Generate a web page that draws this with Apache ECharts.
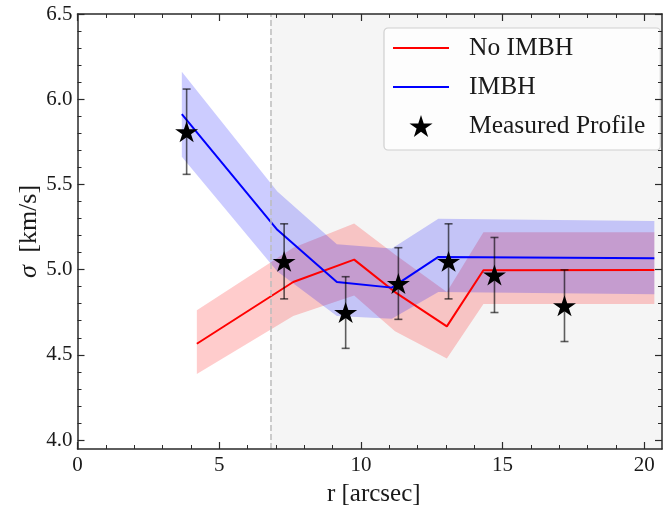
<!DOCTYPE html>
<html>
<head>
<meta charset="utf-8">
<script src="https://cdn.jsdelivr.net/npm/echarts@6/dist/echarts.min.js"></script>
<style>
  html, body { margin: 0; padding: 0; background: #fff; }
  #chart { width: 665px; height: 506px; }
</style>
</head>
<body>
<div id="chart"></div>
<script>
// model without IMBH
var noImbhR = [4.21, 7.61, 9.76, 11.2, 13.03, 14.32, 20.35];
var noImbhSigma = [4.567, 4.929, 5.06, 4.87, 4.669, 4.998, 5.0];
var noImbhLo = [4.39, 4.73, 4.85, 4.64, 4.48, 4.80, 4.80];
var noImbhHi = [4.763, 5.13, 5.272, 5.09, 4.87, 5.22, 5.22];

// model with IMBH
var imbhR = [3.68, 7.05, 9.15, 11.09, 12.73, 20.35];
var imbhSigma = [5.913, 5.235, 4.929, 4.896, 5.076, 5.068];
var imbhLo = [5.663, 4.99, 4.73, 4.714, 4.87, 4.857];
var imbhHi = [6.161, 5.46, 5.15, 5.125, 5.30, 5.287];

// measured profile
var starR = [3.85, 7.29, 9.46, 11.32, 13.09, 14.71, 17.18];
var starSigma = [5.81, 5.05, 4.75, 4.92, 5.05, 4.97, 4.79];
var starErr = [0.25, 0.22, 0.21, 0.21, 0.22, 0.22, 0.21];

var xTicks = [0, 5, 10, 15, 20];
var yTicks = [4.0, 4.5, 5.0, 5.5, 6.0, 6.5];
var cutR = 6.8;
var xMax = 20.62, yMin = 3.95;

var starPath = 'path://M100,0L122.45,69.1L195.1,69.1L136.3,111.8L158.8,180.9L100,138.2L41.2,180.9L63.7,111.8L4.9,69.1L77.55,69.1Z';
var barPath = 'path://M0,0H56V2H0Z';
var font = 'Liberation Serif';
var ink = '#1a1a1a';
var spine = '#2a2a2a';

var myChart = echarts.init(document.getElementById('chart'));

function band(xs, lo, hi, color) {
    return {
        type: 'custom',
        xAxisIndex: 0, yAxisIndex: 0,
        z: 2,
        silent: true,
        clip: true,
        data: xs.map(function (x, i) { return [x, lo[i], hi[i]]; }),
        renderItem: function (params, api) {
            if (params.dataIndex !== 0) return;
            var pts = [];
            for (var i = 0; i < xs.length; i++) pts.push(api.coord([xs[i], hi[i]]));
            for (var j = xs.length - 1; j >= 0; j--) pts.push(api.coord([xs[j], lo[j]]));
            return { type: 'polygon', shape: { points: pts }, style: { fill: color } };
        }
    };
}

function pairs(xs, ys) {
    return xs.map(function (x, i) { return [x, ys[i]]; });
}

// tick axes (inward ticks like the science style)
var tickX = {
    min: 0, max: 20, interval: 5, gridIndex: 1, z: 5,
    axisLine: { show: false },
    axisTick: { show: true, inside: true, length: 7, lineStyle: { color: spine, width: 1.2 } },
    minorTick: { show: true, splitNumber: 5, length: 4, lineStyle: { color: spine, width: 1 } },
    splitLine: { show: false }
};
var tickY = {
    min: 4, max: 6.5, interval: 0.5, gridIndex: 2, z: 5,
    axisLine: { show: false },
    axisTick: { show: true, inside: true, length: 7, lineStyle: { color: spine, width: 1.2 } },
    minorTick: { show: true, splitNumber: 5, length: 4, lineStyle: { color: spine, width: 1 } },
    splitLine: { show: false }
};
var frame = {
    z: 6,
    axisLine: { show: true, onZero: false, lineStyle: { color: spine, width: 1.5 } },
    axisTick: { show: false },
    axisLabel: { show: false },
    splitLine: { show: false }
};

var option = {
    animation: false,
    backgroundColor: '#fff',
    grid: [
        { left: 77.5, right: 3, top: 14, bottom: 57, outerBoundsMode: 'none' },
        { left: 77.5, right: 20.7, top: 14, bottom: 57, outerBoundsMode: 'none' },
        { left: 77.5, right: 3, top: 14, bottom: 66, outerBoundsMode: 'none' }
    ],
    xAxis: [
        Object.assign({}, frame, {
            type: 'value', gridIndex: 0, position: 'bottom', min: 0, max: xMax,
            name: 'r [arcsec]', nameLocation: 'middle', nameGap: 33,
            nameTextStyle: { fontFamily: font, fontSize: 25, color: ink, padding: [0, 0, 0, 8] }
        }),
        Object.assign({}, frame, { type: 'value', gridIndex: 0, position: 'top', min: 0, max: xMax }),
        Object.assign({}, tickX, {
            type: 'value', position: 'bottom',
            axisLabel: {
                show: true, margin: 6, fontFamily: font, fontSize: 21, color: ink,
                formatter: function (v) { return xTicks.indexOf(v) >= 0 ? String(v) : ''; }
            }
        }),
        Object.assign({}, tickX, { type: 'value', position: 'top', axisLabel: { show: false } }),
        { type: 'value', gridIndex: 2, show: false, min: 0, max: 1 }
    ],
    yAxis: [
        Object.assign({}, frame, {
            type: 'value', gridIndex: 0, position: 'left', min: yMin, max: 6.5,
            name: '{i|σ} [km/s]', nameLocation: 'middle', nameGap: 35, nameRotate: 90,
            nameTextStyle: {
                fontFamily: font, fontSize: 26, color: ink, padding: [0, 0, 0, 0],
                rich: { i: { fontFamily: font, fontSize: 26, fontStyle: 'italic', color: ink, padding: [0, 6, 0, 0] } }
            }
        }),
        Object.assign({}, frame, { type: 'value', gridIndex: 0, position: 'right', min: yMin, max: 6.5 }),
        { type: 'value', gridIndex: 1, show: false, min: yMin, max: 6.5 },
        Object.assign({}, tickY, {
            type: 'value', position: 'left',
            axisLabel: {
                show: true, margin: 5, fontFamily: font, fontSize: 21, color: ink,
                formatter: function (v) { return v.toFixed(1); }
            }
        }),
        Object.assign({}, tickY, { type: 'value', position: 'right', axisLabel: { show: false } })
    ],
    legend: {
        left: 384, top: 28,
        orient: 'vertical',
        itemWidth: 56, itemHeight: 22, itemGap: 13,
        padding: [7, 15, 11, 9],
        backgroundColor: 'rgba(255,255,255,0.8)',
        borderColor: '#d0d0d0', borderWidth: 1.2, borderRadius: 4,
        textStyle: { fontFamily: font, fontSize: 25.5, lineHeight: 25, color: ink, padding: [0, 0, 0, 15] },
        selectedMode: false,
        data: [
            { name: 'No IMBH', icon: barPath },
            { name: 'IMBH', icon: barPath },
            { name: 'Measured Profile', icon: starPath }
        ]
    },
    series: [
        {
            // shaded outer region and its boundary
            type: 'line', xAxisIndex: 0, yAxisIndex: 0, data: [], z: 1, silent: true,
            markArea: {
                silent: true,
                itemStyle: { color: '#f5f5f5' },
                data: [[{ xAxis: cutR }, { xAxis: xMax }]]
            },
            markLine: {
                silent: true, symbol: 'none',
                label: { show: false },
                lineStyle: { color: '#bdbdbd', width: 1.5, type: [6, 3] },
                data: [{ xAxis: cutR }]
            }
        },
        band(noImbhR, noImbhLo, noImbhHi, 'rgba(255,0,0,0.2)'),
        band(imbhR, imbhLo, imbhHi, 'rgba(0,0,255,0.2)'),
        {
            name: 'No IMBH', type: 'line', xAxisIndex: 0, yAxisIndex: 0, z: 3,
            symbol: 'none', data: pairs(noImbhR, noImbhSigma),
            lineStyle: { color: '#ff0000', width: 2 }, itemStyle: { color: '#ff0000' }
        },
        {
            name: 'IMBH', type: 'line', xAxisIndex: 0, yAxisIndex: 0, z: 3,
            symbol: 'none', data: pairs(imbhR, imbhSigma),
            lineStyle: { color: '#0000ff', width: 2 }, itemStyle: { color: '#0000ff' }
        },
        {
            type: 'custom', xAxisIndex: 0, yAxisIndex: 0, z: 4, silent: true,
            data: starR.map(function (x, i) { return [x, starSigma[i] - starErr[i], starSigma[i] + starErr[i]]; }),
            renderItem: function (params, api) {
                var top = api.coord([api.value(0), api.value(2)]);
                var bot = api.coord([api.value(0), api.value(1)]);
                var st = { stroke: 'rgba(0,0,0,0.62)', lineWidth: 1.6 };
                return {
                    type: 'group',
                    children: [
                        { type: 'line', shape: { x1: top[0], y1: top[1], x2: bot[0], y2: bot[1] }, style: st },
                        { type: 'line', shape: { x1: top[0] - 4, y1: top[1], x2: top[0] + 4, y2: top[1] }, style: st },
                        { type: 'line', shape: { x1: bot[0] - 4, y1: bot[1], x2: bot[0] + 4, y2: bot[1] }, style: st }
                    ]
                };
            }
        },
        {
            name: 'Measured Profile', type: 'scatter', xAxisIndex: 0, yAxisIndex: 0, z: 5,
            symbol: starPath, symbolSize: [23, 22], symbolKeepAspect: true,
            itemStyle: { color: '#000', opacity: 1 },
            data: pairs(starR, starSigma)
        }
    ]
};
myChart.setOption(option);
</script>
</body>
</html>
